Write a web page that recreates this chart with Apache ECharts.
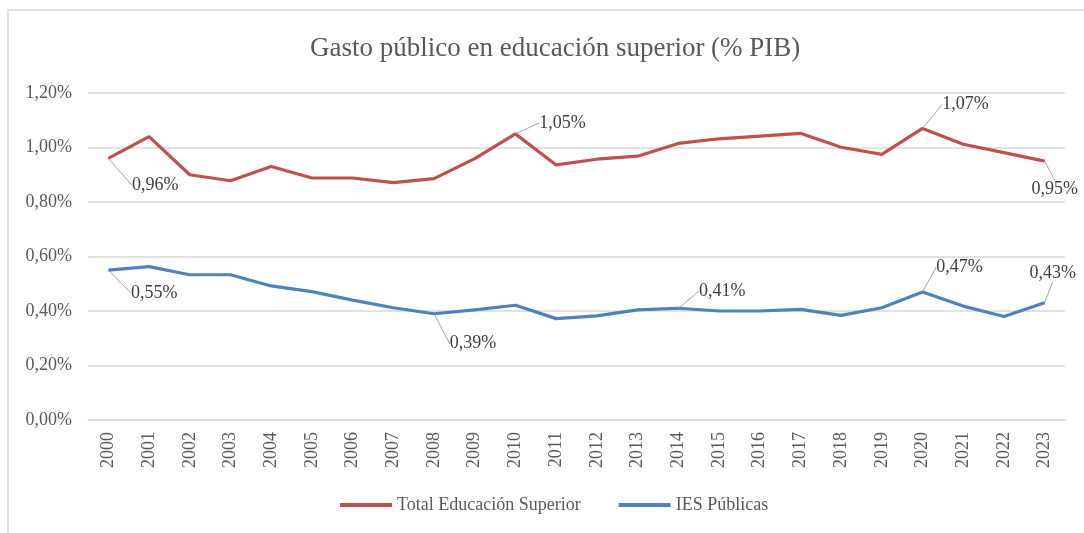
<!DOCTYPE html>
<html>
<head>
<meta charset="utf-8">
<script src="https://cdn.jsdelivr.net/npm/echarts@6/dist/echarts.min.js"></script>
<style>html,body{margin:0;padding:0;background:#fff;}#c{width:1084px;height:533px;}</style>
</head>
<body>
<div id="c"></div>
<script>
const years = ['2000','2001','2002','2003','2004','2005','2006','2007','2008','2009','2010','2011','2012','2013','2014','2015','2016','2017','2018','2019','2020','2021','2022','2023'];
const totalES = [0.96,1.04,0.90,0.878,0.93,0.888,0.888,0.871,0.886,0.959,1.05,0.936,0.957,0.968,1.015,1.032,1.042,1.052,1.001,0.975,1.07,1.012,0.981,0.95];
const iesPublicas = [0.55,0.563,0.533,0.533,0.492,0.471,0.44,0.412,0.39,0.404,0.421,0.372,0.382,0.404,0.41,0.40,0.40,0.406,0.384,0.412,0.47,0.418,0.38,0.43];
const yTicks = [0,0.2,0.4,0.6,0.8,1.0,1.2];
const seriesNames = ['Total Educación Superior','IES Públicas'];
const chartTitle = 'Gasto público en educación superior (% PIB)';
// labelled points: index -> [dx, dy] offset of label from point
const totalLabels = {0:[47,27],10:[47,-11],20:[43,-24],23:[10,28]};
const iesLabels = {0:[46,23],8:[39,30],14:[44,-17],20:[37,-25],23:[8,-30]};

const fmt = v => v.toFixed(2).replace('.', ',') + '%';
const FONT = '"Liberation Serif", "Times New Roman", serif';

function mkData(vals, labels){
  return vals.map((v,i)=>{
    if (labels[i]) {
      return {value:v, label:{show:true}, labelLine:{show:true}};
    }
    return {value:v};
  });
}
function mkLayout(labels){
  return function(p){
    const o = labels[p.dataIndex];
    if (!o) return {};
    return {dx:o[0], dy:o[1]};
  };
}
const labelStyle = {
  position:'inside', color:'#404040', fontFamily:FONT, fontSize:18,
  formatter: p => fmt(p.value)
};

const chart = echarts.init(document.getElementById('c'), null, {renderer:'canvas'});
chart.setOption({
  animation:false,
  backgroundColor:'#fff',
  title:{text:chartTitle, left:305, top:30,
    textStyle:{fontFamily:FONT, fontSize:27, fontWeight:'normal', color:'#595959'}},
  graphic:[{type:'rect', shape:{x:8,y:10,width:1200,height:700},
    style:{fill:'none', stroke:'#d9d9d9', lineWidth:1.5}, silent:true, z:-1}],
  legend:{top:491, left:335, itemWidth:52, itemHeight:4, itemGap:38, icon:'rect',
    textStyle:{fontFamily:FONT, fontSize:18, color:'#595959'}, data:seriesNames},
  grid:{left:88, right:19, top:93, bottom:113},
  xAxis:{type:'category', data:years, boundaryGap:true,
    axisLine:{lineStyle:{color:'#d9d9d9', width:1.5}}, axisTick:{show:false},
    axisLabel:{rotate:90, margin:12, fontFamily:FONT, fontSize:18, color:'#595959'}},
  yAxis:{type:'value', min:yTicks[0], max:yTicks[yTicks.length-1], interval:0.2,
    axisLine:{show:false}, axisTick:{show:false},
    splitLine:{lineStyle:{color:'#d9d9d9', width:1.5}},
    axisLabel:{margin:16, formatter:fmt, fontFamily:FONT, fontSize:18, color:'#595959'}},
  series:[
    {name:seriesNames[0], type:'line', data:mkData(totalES,totalLabels),
      symbol:'circle', symbolSize:1, showSymbol:true,
      lineStyle:{color:'#C0504D', width:3.2}, itemStyle:{color:'#C0504D'},
      label:Object.assign({show:false}, labelStyle),
      labelLine:{show:false, lineStyle:{color:'#a6a6a6', width:1}},
      labelLayout:mkLayout(totalLabels)},
    {name:seriesNames[1], type:'line', data:mkData(iesPublicas,iesLabels),
      symbol:'circle', symbolSize:1, showSymbol:true,
      lineStyle:{color:'#4F81BD', width:3.2}, itemStyle:{color:'#4F81BD'},
      label:Object.assign({show:false}, labelStyle),
      labelLine:{show:false, lineStyle:{color:'#a6a6a6', width:1}},
      labelLayout:mkLayout(iesLabels)}
  ]
});
</script>
</body>
</html>
